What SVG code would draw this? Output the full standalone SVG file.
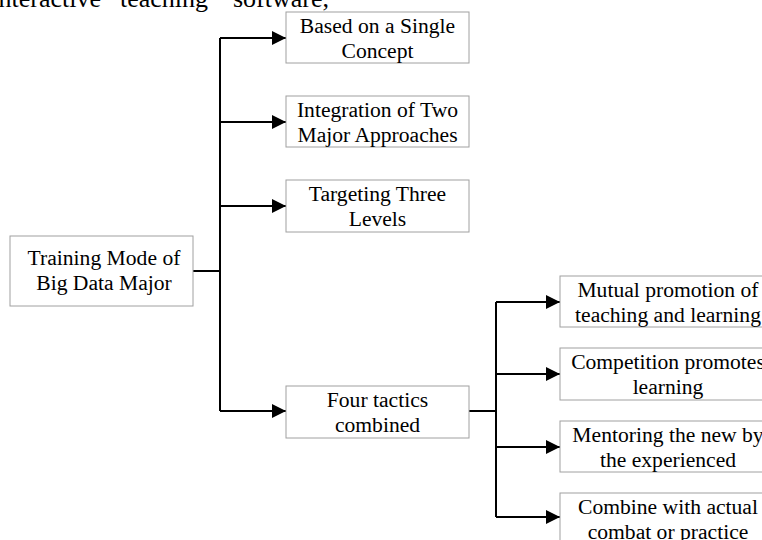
<svg xmlns="http://www.w3.org/2000/svg" width="762" height="540" viewBox="0 0 762 540">
<style>
  .box { fill: #ffffff; stroke: #a0a0a0; stroke-width: 1; }
  .lbl { font-family: "Liberation Serif", "Times New Roman", serif; font-size: 21.6px; fill: #000; text-anchor: middle; }
  .top { font-family: "Liberation Serif", "Times New Roman", serif; font-size: 26px; fill: #000; }
  .wire { fill: none; stroke: #000; stroke-width: 2; }
</style>
<defs>
  <marker id="arr" markerUnits="userSpaceOnUse" markerWidth="14" markerHeight="14" refX="14" refY="7" orient="auto">
    <path d="M0,0 L14,7 L0,14 Z" fill="#000"/>
  </marker>
</defs>
<rect width="762" height="540" fill="#ffffff"/>
<text class="top" x="101" y="7" text-anchor="end">interactive</text>
<text class="top" x="120" y="7">teaching</text>
<text class="top" x="233" y="7">software,</text>

<g id="connectors">
  <path class="wire" d="M193,271 H220"/>
  <path class="wire" d="M220,38 V411"/>
  <path class="wire" d="M220,38 H286" marker-end="url(#arr)"/>
  <path class="wire" d="M220,122 H286" marker-end="url(#arr)"/>
  <path class="wire" d="M220,206 H286" marker-end="url(#arr)"/>
  <path class="wire" d="M220,411 H286" marker-end="url(#arr)"/>
  <path class="wire" d="M469,411 H496"/>
  <path class="wire" d="M496,302 V517"/>
  <path class="wire" d="M496,302 H560" marker-end="url(#arr)"/>
  <path class="wire" d="M496,374 H560" marker-end="url(#arr)"/>
  <path class="wire" d="M496,447 H560" marker-end="url(#arr)"/>
  <path class="wire" d="M496,517 H560" marker-end="url(#arr)"/>
</g>

<g id="root">
  <rect class="box" x="10" y="236" width="183" height="70"/>
  <text class="lbl" x="104" y="265">Training Mode of</text>
  <text class="lbl" x="104" y="290">Big Data Major</text>
</g>

<g id="n1">
  <rect class="box" x="286" y="12" width="183" height="51"/>
  <text class="lbl" x="377.5" y="33">Based on a Single</text>
  <text class="lbl" x="377.5" y="58">Concept</text>
</g>
<g id="n2">
  <rect class="box" x="286" y="96" width="183" height="51"/>
  <text class="lbl" x="377.5" y="117">Integration of Two</text>
  <text class="lbl" x="377.5" y="142">Major Approaches</text>
</g>
<g id="n3">
  <rect class="box" x="286" y="180" width="183" height="52"/>
  <text class="lbl" x="377.5" y="201">Targeting Three</text>
  <text class="lbl" x="377.5" y="226">Levels</text>
</g>
<g id="n4">
  <rect class="box" x="286" y="386" width="183" height="52"/>
  <text class="lbl" x="377.5" y="407">Four tactics</text>
  <text class="lbl" x="377.5" y="432">combined</text>
</g>

<g id="m1">
  <rect class="box" x="560" y="276" width="216" height="51"/>
  <text class="lbl" x="668" y="297">Mutual promotion of</text>
  <text class="lbl" x="668" y="322">teaching and learning</text>
</g>
<g id="m2">
  <rect class="box" x="560" y="348" width="216" height="52"/>
  <text class="lbl" x="668" y="369">Competition promotes</text>
  <text class="lbl" x="668" y="394">learning</text>
</g>
<g id="m3">
  <rect class="box" x="560" y="421" width="216" height="51"/>
  <text class="lbl" x="668" y="442">Mentoring the new by</text>
  <text class="lbl" x="668" y="467">the experienced</text>
</g>
<g id="m4">
  <rect class="box" x="560" y="493" width="216" height="52"/>
  <text class="lbl" x="668" y="514">Combine with actual</text>
  <text class="lbl" x="668" y="539">combat or practice</text>
</g>
</svg>
